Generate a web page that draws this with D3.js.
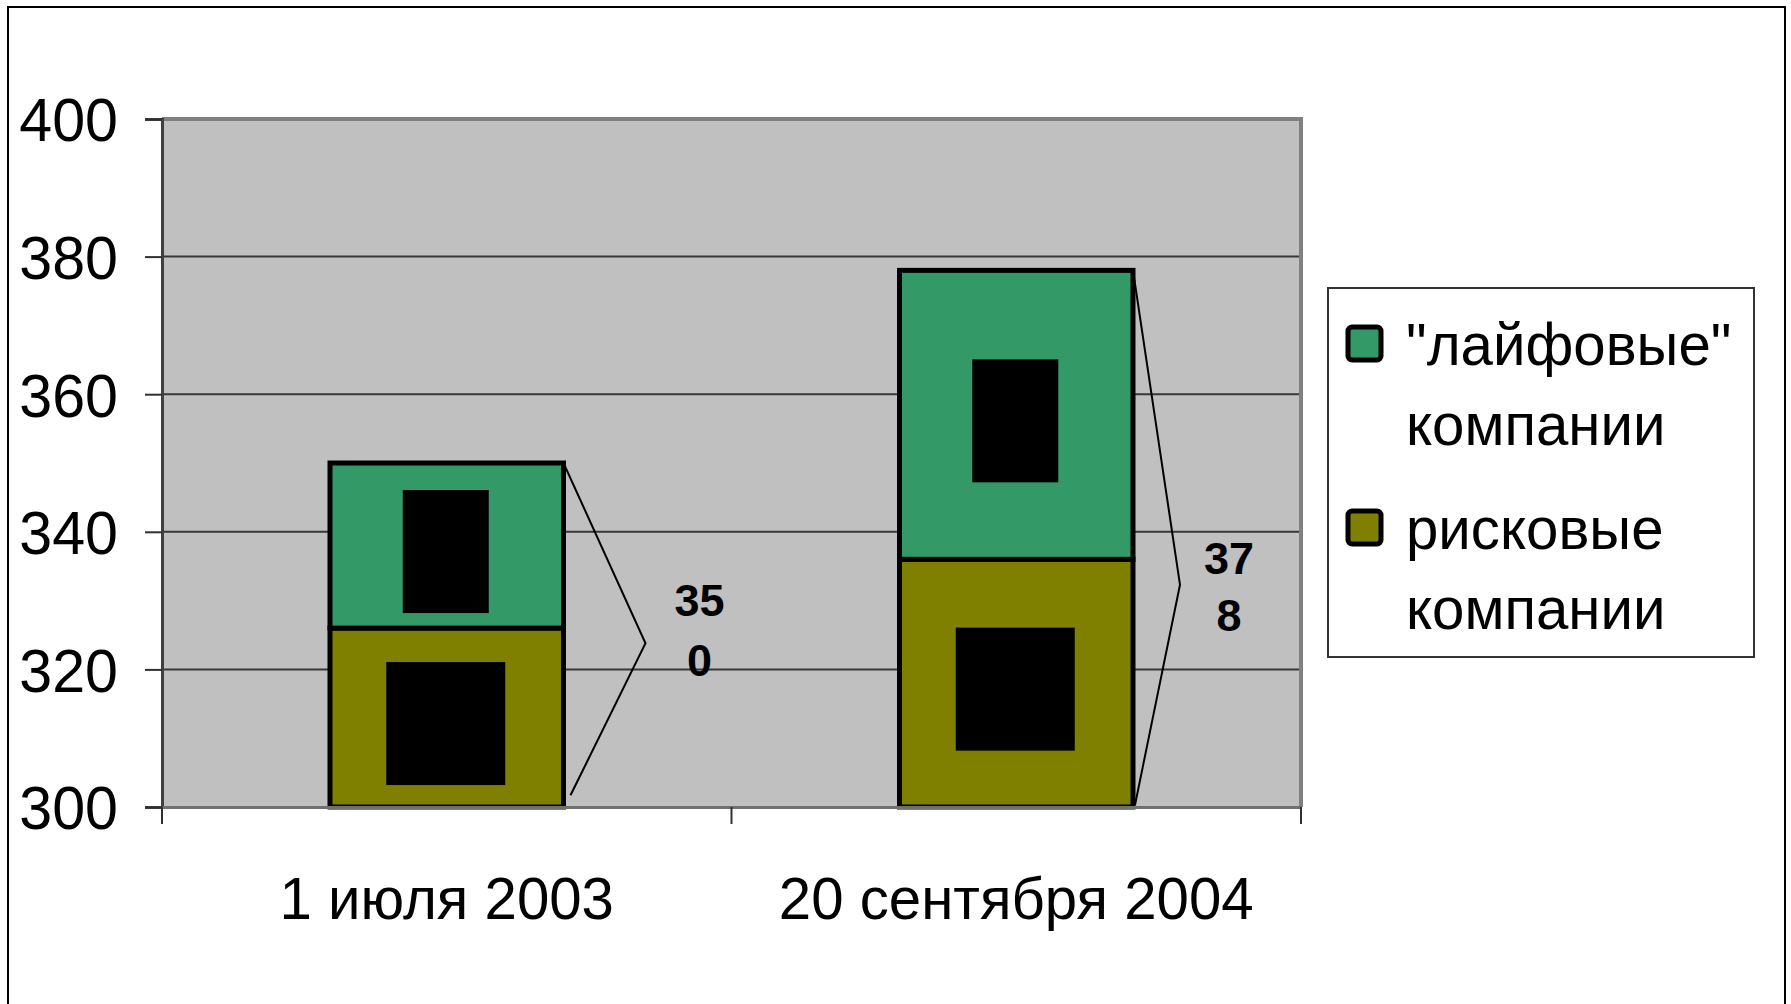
<!DOCTYPE html>
<html>
<head>
<meta charset="utf-8">
<script src="https://cdn.jsdelivr.net/npm/d3@7"></script>
<style>
  html, body { margin: 0; padding: 0; background: #fff; }
  text { font-family: "Liberation Sans", Arial, sans-serif; }
</style>
</head>
<body>
<script>
// Data.
var categories = ["1 июля 2003", "20 сентября 2004"];
var seriesNames = ["рисковые компании", "\"лайфовые\" компании"];
var riskValues = [326, 336];
var lifeValues = [24, 42];
var yTicks = [300, 320, 340, 360, 380, 400];

// Callout brackets next to each bar (value units).
var calloutApex = [323.8, 332.3];
var calloutEnd = [301.7, 300.3];
var calloutLabelTop = [327.8, 333.9];

// Layout.
var W = 1791, H = 1004;
var plot = {left: 162, right: 1301, top: 119, bottom: 807};
var squeeze = 0.97; // the original text is slightly narrow
var layout = {
    apexDx: [82, 47],
    endDx: [7, 2],
    labelDx: [136, 96],
    labelLine: [60, 57]
};
var colors = {
    risk: "#808000",
    life: "#339966",
    plotBack: "#c0c0c0",
    grid: "#383838"
};

// Narrow a text element horizontally, keeping its anchor point in place.
var narrow = function(sel, xPos) {
    sel.attr("x", xPos / squeeze).attr("transform", "scale(" + squeeze + ",1)");
};

var svg = d3.select("body").append("svg")
        .attr("width", W)
        .attr("height", H);

// Outer chart border.
svg.append("rect")
        .attr("x", 8).attr("y", 7)
        .attr("width", 1777).attr("height", 1020)
        .style("fill", "none")
        .style("stroke", "#000")
        .style("stroke-width", 2);

var x = d3.scaleBand()
        .domain(categories)
        .range([plot.left, plot.right])
        .paddingInner(0).paddingOuter(0);
var y = d3.scaleLinear()
        .domain([300, 400])
        .range([plot.bottom, plot.top]);
var barW = x.bandwidth() * 0.41;

// Plot area.
svg.append("rect")
        .attr("x", plot.left).attr("y", plot.top)
        .attr("width", plot.right - plot.left)
        .attr("height", plot.bottom - plot.top)
        .style("fill", colors.plotBack);

// Gridlines.
svg.append("g").selectAll("line")
        .data(yTicks.filter(function(t) { return t > 300 && t < 400; }))
        .enter().append("line")
        .attr("x1", plot.left).attr("x2", plot.right)
        .attr("y1", function(d) { return y(d); })
        .attr("y2", function(d) { return y(d); })
        .style("stroke", colors.grid)
        .style("stroke-width", 2);

// Plot border: top and right in grey.
svg.append("path")
        .attr("d", "M" + plot.left + "," + y(400) + "H" + plot.right + "V" + plot.bottom)
        .style("fill", "none")
        .style("stroke", "#808080")
        .style("stroke-width", 4);

// Stacked bars.
var table = categories.map(function(c, i) {
    return {cat: c, risk: riskValues[i], life: lifeValues[i]};
});
var stack = d3.stack().keys(["risk", "life"])(table);

var barGroups = svg.append("g").selectAll("g")
        .data(stack)
        .enter().append("g")
        .style("fill", function(d) { return colors[d.key]; });

barGroups.selectAll("rect")
        .data(function(d) { return d; })
        .enter().append("rect")
        .attr("x", function(d) { return x(d.data.cat) + (x.bandwidth() - barW) / 2; })
        .attr("width", barW)
        .attr("y", function(d) { return y(d[1]); })
        .attr("height", function(d) { return y(Math.max(d[0], 300)) - y(d[1]); })
        .style("stroke", "#000")
        .style("stroke-width", 5);

// Data label boxes (black fill; their text is black on black in the original).
var boxW = function(d) { return 20 + 33 * String(d[1] - d[0]).length; };
barGroups.selectAll("rect.lab")
        .data(function(d) { return d; })
        .enter().append("rect")
        .attr("class", "lab")
        .attr("width", boxW)
        .attr("height", 123)
        .attr("x", function(d) { return x(d.data.cat) + x.bandwidth() / 2 - 1 - boxW(d) / 2; })
        .attr("y", function(d) {
            var mid = (y(Math.max(d[0], 300)) + y(d[1])) / 2;
            return mid + 6 - 61.5;
        })
        .style("fill", "#000")
        .style("stroke", "none");

// Axes.
var yAxis = svg.append("g")
        .attr("transform", "translate(" + plot.left + ",0)")
        .call(d3.axisLeft(y).tickValues(yTicks).tickSize(17).tickFormat(d3.format("d")));
yAxis.select(".domain").style("stroke", "#404040").style("stroke-width", 3);
yAxis.selectAll(".tick line").style("stroke", "#303030").style("stroke-width", 2);
yAxis.selectAll(".tick text")
        .style("font-size", "61px")
        .style("fill", "#000")
        .attr("dy", "0.36em")
        .call(narrow, -44);

var xAxis = svg.append("g")
        .attr("transform", "translate(0," + plot.bottom + ")")
        .call(d3.axisBottom(x).tickSize(0).tickPadding(0));
xAxis.select(".domain").style("stroke", "#707070").style("stroke-width", 3);
xAxis.selectAll(".tick text")
        .style("font-size", "60px")
        .style("fill", "#000")
        .attr("y", 112)
        .attr("dy", 0)
        .call(narrow, 0);

// Category separators on x axis.
svg.append("g").selectAll("line")
        .data(categories.concat(["end"]))
        .enter().append("line")
        .attr("x1", function(d, i) { return i < categories.length ? x(d) : plot.right; })
        .attr("x2", function(d, i) { return i < categories.length ? x(d) : plot.right; })
        .attr("y1", plot.bottom).attr("y2", plot.bottom + 17)
        .style("stroke", "#303030")
        .style("stroke-width", 2);

// Callout brackets with total labels.
var callouts = svg.append("g");
table.forEach(function(d, i) {
    var total = d.risk + d.life;
    var right = x(d.cat) + (x.bandwidth() + barW) / 2;
    var pts = [
        [right, y(total)],
        [right + layout.apexDx[i], y(calloutApex[i])],
        [right + layout.endDx[i], y(calloutEnd[i])]
    ];
    callouts.append("path")
            .attr("d", d3.line()(pts))
            .style("fill", "none")
            .style("stroke", "#000")
            .style("stroke-width", 2);
    var s = String(total);
    var t = callouts.append("text")
            .attr("text-anchor", "middle")
            .style("font-size", "45px")
            .style("font-weight", "bold")
            .style("fill", "#000");
    t.append("tspan")
            .attr("x", right + layout.labelDx[i])
            .attr("y", y(calloutLabelTop[i]))
            .text(s.slice(0, 2));
    t.append("tspan")
            .attr("x", right + layout.labelDx[i])
            .attr("y", y(calloutLabelTop[i]) + layout.labelLine[i])
            .text(s.slice(2));
});

// Legend.
var legend = svg.append("g");
legend.append("rect")
        .attr("x", 1328).attr("y", 288)
        .attr("width", 426).attr("height", 369)
        .style("fill", "#fff")
        .style("stroke", "#333")
        .style("stroke-width", 2);

var legendItems = [
    {lines: ["\"лайфовые\"", "компании"], color: colors.life},
    {lines: ["рисковые", "компании"], color: colors.risk}
];
legendItems.forEach(function(item, i) {
    var top = 365 + i * 184;
    legend.append("rect")
            .attr("x", 1348).attr("y", top - 38)
            .attr("width", 33).attr("height", 33)
            .attr("rx", 4)
            .style("fill", item.color)
            .style("stroke", "#000")
            .style("stroke-width", 5);
    item.lines.forEach(function(line, j) {
        legend.append("text")
                .attr("y", top + j * 80)
                .style("font-size", "60px")
                .style("fill", "#000")
                .text(line)
                .call(narrow, 1406);
    });
});
</script>
</body>
</html>
